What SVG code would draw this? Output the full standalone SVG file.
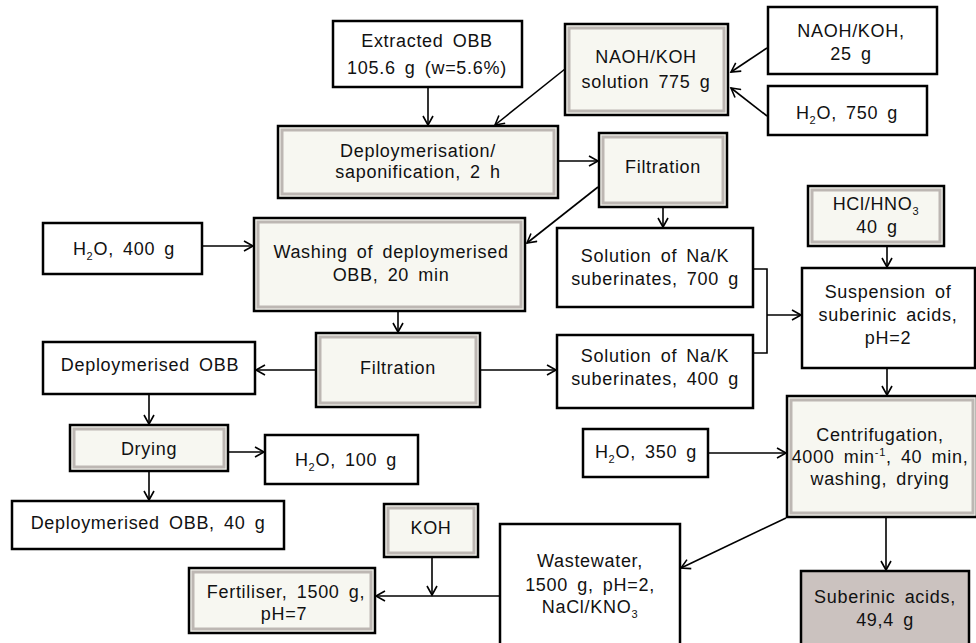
<svg xmlns="http://www.w3.org/2000/svg" width="976" height="643" viewBox="0 0 976 643">
<style>
.w{fill:#fff;stroke:#000;stroke-width:2.5}
.s{fill:#f7f7f1;stroke:#000;stroke-width:2.5}
.si{fill:none;stroke:#bdb7b3;stroke-width:3}
.p{fill:#cbc2bf;stroke:#000;stroke-width:2.5}
text{font-family:"Liberation Sans",Arial,sans-serif;font-size:18px;letter-spacing:0.7px;word-spacing:3.5px;text-anchor:middle;fill:#111}
.c{fill:none;stroke:#000;stroke-width:1.6}
.a{marker-end:url(#ah)}
</style>
<defs>
<marker id="ah" markerWidth="12" markerHeight="12" refX="10" refY="6" orient="auto" markerUnits="userSpaceOnUse">
<path d="M1,1 L10,6 L1,11" fill="none" stroke="#000" stroke-width="1.6"/>
</marker>
</defs>
<rect width="976" height="643" fill="#fff"/>

<g id="connectors">
<path class="c a" d="M428,87 V125"/>
<path class="c a" d="M565,69 L495,125"/>
<path class="c a" d="M767,48 L731,72"/>
<path class="c a" d="M767,116 L731,88"/>
<path class="c a" d="M558,161 H598"/>
<path class="c a" d="M598,187 L527,243"/>
<path class="c a" d="M663,207 V227"/>
<path class="c a" d="M202,246 H253"/>
<path class="c a" d="M398,311 V332"/>
<path class="c a" d="M316,370 H256"/>
<path class="c a" d="M480,370 H556"/>
<path class="c" d="M753,269 H767 V353 H753"/>
<path class="c a" d="M767,315 H801"/>
<path class="c a" d="M887,246 V267"/>
<path class="c a" d="M887,368 V395"/>
<path class="c a" d="M708,453 H786"/>
<path class="c a" d="M786,518 L681,568"/>
<path class="c a" d="M886,517 V570"/>
<path class="c a" d="M500,596 H376"/>
<path class="c a" d="M432,557 V595"/>
<path class="c a" d="M149,394 V424"/>
<path class="c a" d="M228,452 H264"/>
<path class="c a" d="M149,471 V500"/>
</g>

<g id="extracted-obb">
<rect class="w" x="333" y="21" width="189" height="66"/>
<text x="427" y="47">Extracted OBB</text>
<text x="427" y="74">105.6 g (w=5.6%)</text>
</g>

<g id="naoh-solution">
<rect class="s" x="565" y="24" width="163" height="91"/>
<rect class="si" x="569" y="28" width="155" height="83"/>
<text x="646" y="63">NAOH/KOH</text>
<text x="646" y="88">solution 775 g</text>
</g>

<g id="naoh-25">
<rect class="w" x="768" y="7" width="169" height="67"/>
<text x="851" y="37">NAOH/KOH,</text>
<text x="851" y="60">25 g</text>
</g>

<g id="h2o-750">
<rect class="w" x="768" y="86" width="159" height="49"/>
<text x="847" y="119">H<tspan font-size="11" dy="5">2</tspan><tspan dy="-5">O, 750 g</tspan></text>
</g>

<g id="deploymerisation">
<rect class="s" x="278" y="126" width="280" height="72"/>
<rect class="si" x="282" y="130" width="272" height="64"/>
<text x="418" y="157">Deploymerisation/</text>
<text x="418" y="178">saponification, 2 h</text>
</g>

<g id="filtration-1">
<rect class="s" x="599" y="133" width="128" height="74"/>
<rect class="si" x="603" y="137" width="120" height="66"/>
<text x="663" y="173">Filtration</text>
</g>

<g id="washing">
<rect class="s" x="254" y="218" width="271" height="93"/>
<rect class="si" x="258" y="222" width="263" height="85"/>
<text x="391" y="258">Washing of deploymerised</text>
<text x="391" y="281">OBB, 20 min</text>
</g>

<g id="h2o-400">
<rect class="w" x="43" y="223" width="159" height="51"/>
<text x="124" y="255">H<tspan font-size="11" dy="5">2</tspan><tspan dy="-5">O, 400 g</tspan></text>
</g>

<g id="solution-700">
<rect class="w" x="557" y="228" width="196" height="79"/>
<text x="655" y="262">Solution of Na/K</text>
<text x="655" y="285">suberinates, 700 g</text>
</g>

<g id="hcl-hno3">
<rect class="s" x="808" y="186" width="136" height="60"/>
<rect class="si" x="812" y="190" width="128" height="52"/>
<text x="876" y="210">HCl/HNO<tspan font-size="11" dy="5">3</tspan></text>
<text x="877" y="233">40 g</text>
</g>

<g id="suspension">
<rect class="w" x="802" y="268" width="173" height="100"/>
<text x="888" y="298">Suspension of</text>
<text x="888" y="321">suberinic acids,</text>
<text x="888" y="344">pH=2</text>
</g>

<g id="solution-400">
<rect class="w" x="557" y="335" width="196" height="73"/>
<text x="655" y="362">Solution of Na/K</text>
<text x="655" y="385">suberinates, 400 g</text>
</g>

<g id="filtration-2">
<rect class="s" x="316" y="333" width="164" height="74"/>
<rect class="si" x="320" y="337" width="156" height="66"/>
<text x="398" y="374">Filtration</text>
</g>

<g id="deploymerised-obb">
<rect class="w" x="43" y="342" width="212" height="52"/>
<text x="150" y="371">Deploymerised OBB</text>
</g>

<g id="drying">
<rect class="s" x="70" y="425" width="158" height="46"/>
<rect class="si" x="74" y="429" width="150" height="38"/>
<text x="149" y="455">Drying</text>
</g>

<g id="h2o-100">
<rect class="w" x="265" y="435" width="153" height="49"/>
<text x="346" y="466">H<tspan font-size="11" dy="5">2</tspan><tspan dy="-5">O, 100 g</tspan></text>
</g>

<g id="deploymerised-obb-40">
<rect class="w" x="12" y="501" width="272" height="48"/>
<text x="148" y="529">Deploymerised OBB, 40 g</text>
</g>

<g id="koh">
<rect class="s" x="384" y="504" width="94" height="53"/>
<rect class="si" x="388" y="508" width="86" height="45"/>
<text x="431" y="534">KOH</text>
</g>

<g id="fertiliser">
<rect class="s" x="189" y="568" width="186" height="65"/>
<rect class="si" x="193" y="572" width="178" height="57"/>
<text x="286" y="598">Fertiliser, 1500 g,</text>
<text x="284" y="620">pH=7</text>
</g>

<g id="wastewater">
<rect class="w" x="500" y="524" width="180" height="130"/>
<text x="590" y="567">Wastewater,</text>
<text x="590" y="591">1500 g, pH=2,</text>
<text x="590" y="613">NaCl/KNO<tspan font-size="11" dy="5">3</tspan></text>
</g>

<g id="h2o-350">
<rect class="w" x="583" y="429" width="125" height="48"/>
<text x="646" y="458">H<tspan font-size="11" dy="5">2</tspan><tspan dy="-5">O, 350 g</tspan></text>
</g>

<g id="centrifugation">
<rect class="s" x="787" y="396" width="190" height="121"/>
<rect class="si" x="791" y="400" width="182" height="113"/>
<text x="880" y="441">Centrifugation,</text>
<text x="880" y="463">4000 min<tspan font-size="11" dy="-7">-1</tspan><tspan dy="7">, 40 min,</tspan></text>
<text x="880" y="485">washing, drying</text>
</g>

<g id="suberinic-acids">
<rect class="p" x="801" y="571" width="168" height="85"/>
<text x="885" y="603">Suberinic acids,</text>
<text x="885" y="626">49,4 g</text>
</g>
</svg>
